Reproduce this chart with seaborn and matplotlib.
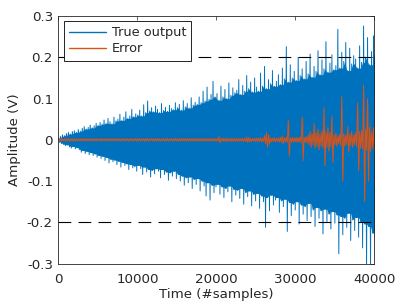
import numpy as np
import pandas as pd
import seaborn as sns
import matplotlib.pyplot as plt

# signal envelope, one upper and one lower extreme
# for every 250 samples (160 bins covering 0..40000)
true_upper = [
    0.004, 0.008, 0.012, 0.010, 0.015, 0.018, 0.014, 0.020, 0.022, 0.018,
    0.025, 0.021, 0.028, 0.032, 0.026, 0.030, 0.036, 0.029, 0.034, 0.040,
    0.035, 0.042, 0.038, 0.048, 0.040, 0.052, 0.044, 0.039, 0.055, 0.046,
    0.050, 0.062, 0.047, 0.055, 0.068, 0.052, 0.058, 0.074, 0.056, 0.063,
    0.060, 0.072, 0.058, 0.085, 0.066, 0.094, 0.070, 0.078, 0.068, 0.082,
    0.074, 0.066, 0.088, 0.071, 0.079, 0.069, 0.084, 0.076, 0.073, 0.090,
    0.078, 0.086, 0.072, 0.095, 0.080, 0.088, 0.077, 0.102, 0.084, 0.091,
    0.086, 0.104, 0.090, 0.118, 0.094, 0.128, 0.098, 0.110, 0.142, 0.104,
    0.112, 0.096, 0.130, 0.104, 0.122, 0.100, 0.138, 0.108, 0.126, 0.114,
    0.120, 0.146, 0.110, 0.132, 0.118, 0.156, 0.124, 0.140, 0.116, 0.150,
    0.128, 0.118, 0.162, 0.130, 0.178, 0.124, 0.146, 0.136, 0.168, 0.130,
    0.142, 0.158, 0.134, 0.174, 0.148, 0.226, 0.140, 0.182, 0.150, 0.166,
    0.144, 0.200, 0.156, 0.172, 0.148, 0.190, 0.160, 0.208, 0.152, 0.178,
    0.166, 0.216, 0.158, 0.194, 0.172, 0.238, 0.164, 0.186, 0.206, 0.170,
    0.180, 0.268, 0.174, 0.212, 0.190, 0.236, 0.168, 0.222, 0.184, 0.204,
    0.196, 0.174, 0.228, 0.188, 0.276, 0.200, 0.248, 0.182, 0.214, 0.252,
]
true_lower = [
    -0.005, -0.009, -0.011, -0.014, -0.012, -0.017, -0.020, -0.016, -0.022, -0.019,
    -0.024, -0.030, -0.026, -0.033, -0.028, -0.036, -0.031, -0.038, -0.034, -0.042,
    -0.038, -0.045, -0.040, -0.050, -0.043, -0.056, -0.047, -0.053, -0.049, -0.060,
    -0.052, -0.066, -0.055, -0.062, -0.058, -0.072, -0.060, -0.068, -0.064, -0.076,
    -0.062, -0.070, -0.084, -0.066, -0.078, -0.072, -0.090, -0.074, -0.082, -0.070,
    -0.076, -0.092, -0.072, -0.084, -0.078, -0.098, -0.080, -0.088, -0.076, -0.094,
    -0.084, -0.100, -0.088, -0.110, -0.092, -0.104, -0.090, -0.118, -0.096, -0.108,
    -0.094, -0.124, -0.100, -0.112, -0.136, -0.104, -0.146, -0.110, -0.128, -0.114,
    -0.108, -0.132, -0.114, -0.140, -0.118, -0.126, -0.112, -0.150, -0.120, -0.134,
    -0.122, -0.142, -0.118, -0.156, -0.128, -0.138, -0.124, -0.160, -0.132, -0.148,
    -0.130, -0.166, -0.136, -0.150, -0.212, -0.140, -0.172, -0.134, -0.158, -0.146,
    -0.140, -0.176, -0.148, -0.162, -0.144, -0.222, -0.152, -0.184, -0.156, -0.170,
    -0.150, -0.204, -0.158, -0.180, -0.162, -0.196, -0.154, -0.186, -0.170, -0.210,
    -0.164, -0.190, -0.172, -0.228, -0.168, -0.198, -0.180, -0.216, -0.174, -0.202,
    -0.182, -0.276, -0.186, -0.230, -0.190, -0.212, -0.178, -0.244, -0.194, -0.220,
    -0.188, -0.236, -0.198, -0.262, -0.204, -0.310, -0.210, -0.310, -0.226, -0.250,
]
error_upper = [
    0.002, 0.003, 0.002, 0.003, 0.002, 0.003, 0.002, 0.003, 0.002, 0.003,
    0.002, 0.003, 0.002, 0.003, 0.002, 0.003, 0.002, 0.003, 0.002, 0.003,
    0.002, 0.003, 0.002, 0.003, 0.002, 0.003, 0.002, 0.003, 0.002, 0.003,
    0.002, 0.003, 0.002, 0.003, 0.002, 0.003, 0.002, 0.003, 0.002, 0.003,
    0.003, 0.003, 0.002, 0.003, 0.003, 0.003, 0.002, 0.003, 0.003, 0.003,
    0.003, 0.003, 0.002, 0.003, 0.003, 0.003, 0.002, 0.003, 0.003, 0.003,
    0.003, 0.003, 0.003, 0.003, 0.003, 0.003, 0.003, 0.003, 0.003, 0.003,
    0.003, 0.003, 0.003, 0.003, 0.003, 0.003, 0.003, 0.003, 0.003, 0.003,
    0.003, 0.008, 0.003, 0.004, 0.003, 0.004, 0.003, 0.004, 0.003, 0.004,
    0.003, 0.004, 0.003, 0.004, 0.003, 0.007, 0.006, 0.004, 0.003, 0.004,
    0.004, 0.004, 0.005, 0.004, 0.010, 0.018, 0.012, 0.005, 0.004, 0.005,
    0.004, 0.005, 0.006, 0.010, 0.005, 0.006, 0.048, 0.005, 0.006, 0.005,
    0.006, 0.005, 0.007, 0.056, 0.006, 0.008, 0.012, 0.020, 0.014, 0.040,
    0.018, 0.026, 0.015, 0.022, 0.078, 0.020, 0.030, 0.018, 0.058, 0.012,
    0.016, 0.010, 0.014, 0.105, 0.015, 0.012, 0.032, 0.014, 0.020, 0.012,
    0.018, 0.090, 0.020, 0.022, 0.133, 0.025, 0.100, 0.030, 0.020, 0.030,
]
error_lower = [
    -0.002, -0.003, -0.002, -0.003, -0.002, -0.003, -0.002, -0.003, -0.002, -0.003,
    -0.002, -0.003, -0.002, -0.003, -0.002, -0.003, -0.002, -0.003, -0.002, -0.003,
    -0.002, -0.003, -0.002, -0.003, -0.002, -0.003, -0.002, -0.003, -0.002, -0.003,
    -0.002, -0.003, -0.002, -0.003, -0.002, -0.003, -0.002, -0.003, -0.002, -0.003,
    -0.003, -0.003, -0.002, -0.003, -0.003, -0.003, -0.002, -0.003, -0.003, -0.003,
    -0.003, -0.003, -0.002, -0.003, -0.003, -0.003, -0.002, -0.003, -0.003, -0.003,
    -0.003, -0.003, -0.003, -0.003, -0.003, -0.003, -0.003, -0.003, -0.003, -0.003,
    -0.003, -0.003, -0.003, -0.003, -0.003, -0.003, -0.003, -0.003, -0.003, -0.003,
    -0.003, -0.007, -0.003, -0.004, -0.003, -0.004, -0.003, -0.004, -0.003, -0.004,
    -0.003, -0.004, -0.003, -0.004, -0.003, -0.006, -0.005, -0.004, -0.003, -0.004,
    -0.004, -0.004, -0.005, -0.004, -0.009, -0.018, -0.011, -0.005, -0.004, -0.005,
    -0.004, -0.005, -0.006, -0.009, -0.005, -0.006, -0.040, -0.005, -0.006, -0.005,
    -0.006, -0.005, -0.007, -0.050, -0.006, -0.008, -0.012, -0.018, -0.012, -0.020,
    -0.016, -0.024, -0.015, -0.020, -0.063, -0.018, -0.028, -0.016, -0.055, -0.012,
    -0.016, -0.010, -0.014, -0.100, -0.015, -0.012, -0.030, -0.014, -0.018, -0.012,
    -0.016, -0.075, -0.020, -0.022, -0.150, -0.025, -0.100, -0.028, -0.020, -0.030,
]

threshold_levels = [0.2, -0.2]
x_ticks = [0, 10000, 20000, 30000, 40000]
y_ticks = [-0.3, -0.2, -0.1, 0, 0.1, 0.2, 0.3]
y_tick_labels = ["-0.3", "-0.2", "-0.1", "0", "0.1", "0.2", "0.3"]

BLUE = "#0072BD"
ORANGE = "#D95319"

# interleave upper/lower extremes so the line sweeps through each bin
n = len(true_upper)
bin_time = np.linspace(0, 40000, n)
time = np.linspace(0, 40000, 2 * n)
signal = pd.DataFrame({
    "time": time,
    "true": np.column_stack((true_upper, true_lower)).ravel(),
    "error": np.column_stack((error_upper, error_lower)).ravel(),
})

# dense core = the quieter neighbour of every bin, so single spikes stick out
core_upper = pd.Series(true_upper).rolling(3, center=True, min_periods=1).min()
core_lower = pd.Series(true_lower).rolling(3, center=True, min_periods=1).max()

sns.set_style("white")
plt.rcParams["font.family"] = ["DejaVu Sans"]
plt.rcParams["axes.unicode_minus"] = False
plt.rcParams["font.size"] = 9.6

fig = plt.figure(figsize=(4.09, 3.04), dpi=100)
ax = fig.add_axes([0.143, 0.133, 0.7726, 0.814])

ax.fill_between(bin_time, core_upper, core_lower, color=BLUE, linewidth=0)
sns.lineplot(data=signal, x="time", y="true", color=BLUE, linewidth=0.7,
             estimator=None, sort=False, label="True output", ax=ax)
ax.fill_between(bin_time, error_upper, error_lower, color=ORANGE, linewidth=0)
sns.lineplot(data=signal, x="time", y="error", color=ORANGE, linewidth=0.7,
             estimator=None, sort=False, label="Error", ax=ax)
for level in threshold_levels:
    ax.axhline(level, color="black", linewidth=0.8, linestyle=(0, (11.5, 6.5)))

ax.set_xlim(0, 40000)
ax.set_ylim(-0.3, 0.3)
ax.set_xticks(x_ticks)
ax.set_xticklabels([str(t) for t in x_ticks])
ax.set_yticks(y_ticks)
ax.set_yticklabels(y_tick_labels)
ax.set_xlabel("Time (#samples)", color="#262626", labelpad=1.5)
ax.set_ylabel("Amplitude (V)", color="#262626", labelpad=4)
ax.tick_params(direction="in", length=3, width=0.5, colors="#262626",
               top=True, right=True, labelsize=9.6)
ax.tick_params(axis="x", pad=7)
ax.tick_params(axis="y", pad=4)
for spine in ax.spines.values():
    spine.set_linewidth(0.6)
    spine.set_color("#262626")

leg = ax.legend(loc="upper left", bbox_to_anchor=(0.017, 0.98),
                borderaxespad=0, handlelength=2.9, fancybox=False,
                edgecolor="black", framealpha=1, borderpad=0.4,
                labelspacing=0.25, handletextpad=0.4, fontsize=9.3)
leg.get_frame().set_linewidth(0.6)
for line in leg.get_lines():
    line.set_linewidth(1.0)

plt.savefig("out.png", dpi=100)
